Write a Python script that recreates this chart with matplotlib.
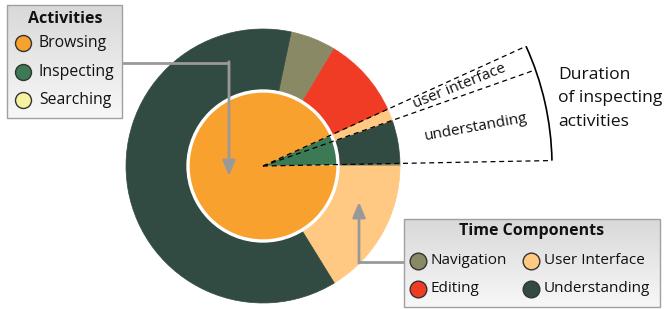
import numpy as np
import matplotlib
matplotlib.use('Agg')
import matplotlib.pyplot as plt
from matplotlib.patches import Rectangle, Circle, Arc

# ---------------- data ----------------
activities = ['Searching', 'Inspecting', 'Browsing']          # inner pie, ccw from 0 deg
activity_values = [0.3, 6.5, 93.2]                             # percent of time
outer_components = ['Navigation', 'Understanding', 'User Interface',
                    'Editing', 'Navigation', 'Understanding', 'User Interface']
outer_values = [0.3, 5.1, 1.4, 9.6, 5.3, 62.1, 16.2]           # percent of time
legend_activities = ['Browsing', 'Inspecting', 'Searching']
legend_components = ['Navigation', 'User Interface', 'Editing', 'Understanding']
inspect_labels = ['understanding', 'user interface']

act_colors = {'Browsing': '#F9A12E', 'Inspecting': '#3C7A55', 'Searching': '#F7F29E'}
comp_colors = {'Navigation': '#8A8966', 'User Interface': '#FFC983',
               'Editing': '#F03C24', 'Understanding': '#324B42'}

plt.rcParams['font.family'] = ['Open Sans', 'DejaVu Sans']

W, H = 668, 309
fig = plt.figure(figsize=(W / 100, H / 100), dpi=100)
ax = fig.add_axes([0, 0, 1, 1])

cx, cy = 263, H - 166
R_out, R_in = 137, 75

w_out, _ = ax.pie(outer_values, colors=[comp_colors[c] for c in outer_components],
                  radius=R_out, center=(cx, cy), startangle=0, counterclock=True,
                  wedgeprops=dict(width=R_out - R_in, linewidth=0))
w_in, _ = ax.pie(activity_values, colors=[act_colors[a] for a in activities],
                 radius=R_in, center=(cx, cy), startangle=0, counterclock=True,
                 wedgeprops=dict(linewidth=0))
for w in list(w_out) + list(w_in):
    w.set_edgecolor(w.get_facecolor())
    w.set_linewidth(0.5)
ax.add_patch(Circle((cx, cy), R_in, fill=False, ec='white', lw=2.4, zorder=3))

# boundaries of the searching / inspecting expansion
cum = np.cumsum(outer_values) * 3.6
bounds = [cum[0], cum[1], cum[2]]
Rd = 289
for a in bounds:
    t = np.radians(a)
    ax.plot([cx, cx + Rd * np.cos(t)], [cy, cy + Rd * np.sin(t)],
            color='black', lw=0.9, ls=(0, (4, 3)), zorder=4)
ax.add_patch(Arc((cx, cy), 2 * Rd, 2 * Rd, theta1=bounds[0], theta2=bounds[2],
                 color='black', lw=1.2, zorder=4))

for (a0, a1), lab, r in zip([(bounds[0], bounds[1]), (bounds[1], bounds[2])],
                             inspect_labels, [216, 212]):
    m = (a0 + a1) / 2
    t = np.radians(m)
    ax.text(cx + r * np.cos(t), cy + r * np.sin(t), lab, rotation=m,
            rotation_mode='anchor', ha='center', va='center', fontsize=11,
            color='#111111', zorder=5)

for txt, yb in zip(['Duration', 'of inspecting', 'activities'], [79, 102.5, 126]):
    ax.text(558, H - yb, txt, ha='left', va='baseline', fontsize=12.6, color='#111111')


def legend_box(x0, y0, x1, y1):
    grad = np.linspace(0, 1, 100).reshape(-1, 1)
    top = np.array([0.85, 0.85, 0.85])
    bot = np.array([0.97, 0.97, 0.97])
    img = top + (bot - top) * grad[:, :, None] * np.ones((1, 1, 3))
    ax.imshow(img, extent=(x0, x1, H - y1, H - y0), aspect='auto', zorder=5,
              interpolation='bilinear')
    ax.add_patch(Rectangle((x0, H - y1), x1 - x0, y1 - y0, fill=False,
                           ec='#A0A0A0', lw=1, zorder=6))


# Activities legend
legend_box(7, 5, 122, 118)
ax.text(65, H - 19, 'Activities', ha='center', va='center', fontsize=11.5,
        fontweight='bold', color='#111111', zorder=7)
for lab, y in zip(legend_activities, [43.3, 71.5, 100]):
    ax.plot(22.5, H - y, 'o', ms=11.5, mfc=act_colors[lab], mec='#333333', mew=1, zorder=7)
    ax.text(39, H - y, lab, ha='left', va='center', fontsize=11.3, color='#111111', zorder=7)

# Time components legend
legend_box(404, 219, 660, 307)
ax.text(532, H - 231, 'Time Components', ha='center', va='center', fontsize=11.5,
        fontweight='bold', color='#111111', zorder=7)
pos = [(418, 260.5), (531, 260.5), (418, 289), (531, 289)]
for lab, (x, y) in zip(legend_components, pos):
    ax.plot(x, H - y, 'o', ms=12, mfc=comp_colors[lab], mec='#333333', mew=1, zorder=7)
    ax.text(x + 12.5, H - y, lab, ha='left', va='center', fontsize=11, color='#111111', zorder=7)

# callout arrows
gray = '#999999'
ax.plot([122, 229], [H - 62.7, H - 62.7], color=gray, lw=2, solid_capstyle='butt',
        solid_joinstyle='miter', zorder=4)
ax.annotate('', xy=(229, H - 176), xytext=(229, H - 61.7),
            arrowprops=dict(arrowstyle='-|>,head_length=0.9,head_width=0.38', color=gray,
                            lw=2, shrinkA=0, shrinkB=0, mutation_scale=10), zorder=4)
ax.plot([404, 359], [H - 262, H - 262], color=gray, lw=2, solid_capstyle='butt', zorder=4)
ax.annotate('', xy=(359, H - 202), xytext=(359, H - 263),
            arrowprops=dict(arrowstyle='-|>,head_length=0.9,head_width=0.38', color=gray,
                            lw=2, shrinkA=0, shrinkB=0, mutation_scale=10), zorder=4)

ax.set_xlim(0, W)
ax.set_ylim(0, H)
ax.set_aspect('auto')
ax.axis('off')
fig.savefig('out.png', dpi=100)
